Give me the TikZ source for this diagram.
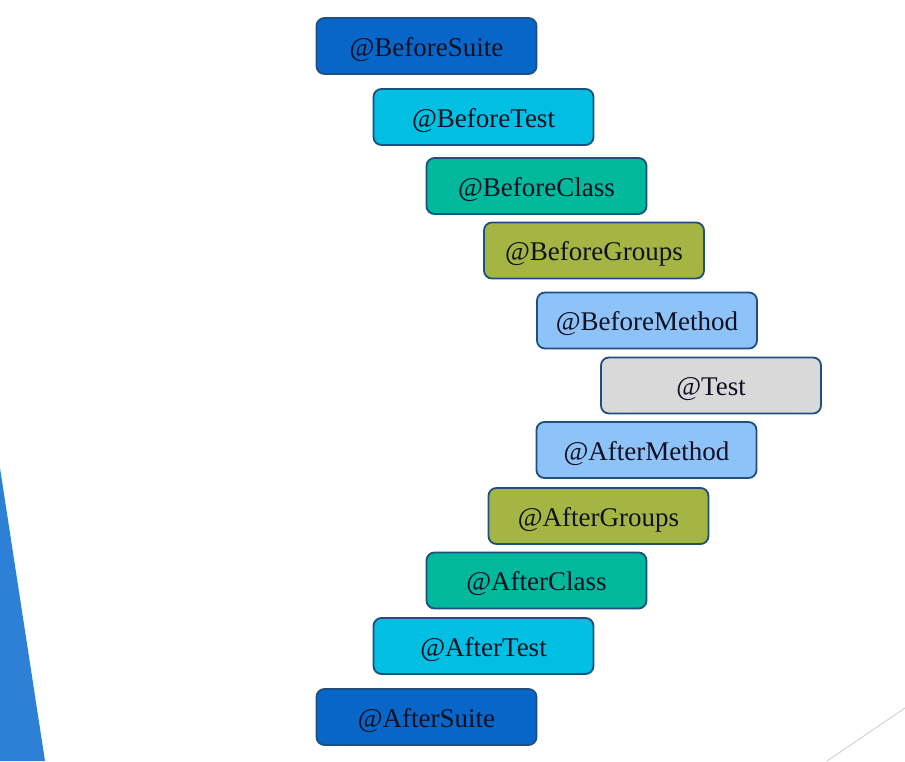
\documentclass[tikz,border=0pt]{standalone}
\usepackage{fontspec}
\setmainfont{Liberation Serif}
\definecolor{cSuite}{HTML}{0866C9}
\definecolor{cTest}{HTML}{00BFE2}
\definecolor{cClass}{HTML}{00B89C}
\definecolor{cGroups}{HTML}{A4B543}
\definecolor{cMethod}{HTML}{8DC3F8}
\definecolor{cT}{HTML}{D9D9D9}
\definecolor{cBorder}{HTML}{1E4F80}
\definecolor{cText}{HTML}{101020}
\definecolor{cTri}{HTML}{2E80D6}
\definecolor{cLine}{HTML}{D3D3D3}
\tikzset{
  annbox/.style={draw=cBorder, line width=1.8pt, rounded corners=8pt,
    minimum width=220pt, minimum height=56pt, inner sep=0pt,
    text height=20pt, text depth=0pt,
    text=cText, font=\fontsize{27}{31}\selectfont},
}
\begin{document}
\begin{tikzpicture}[x=1pt,y=-1pt]
\useasboundingbox (0,0) rectangle (905,761);
\fill[white] (0,0) rectangle (905,761);
\fill[cTri] (0,468) -- (45,761) -- (0,761) -- cycle;
\coordinate (la) at (827,761);
\coordinate (lb) at (905,708);
\draw[cLine, line width=1pt] (la) -- (lb);
\node[annbox, fill=cSuite]  (bs) at (426.5,46)  {@BeforeSuite};
\node[annbox, fill=cTest]   (bt) at (483.5,117) {@BeforeTest};
\node[annbox, fill=cClass]  (bc) at (536.5,186) {@BeforeClass};
\node[annbox, fill=cGroups] (bg) at (594,250.5) {@BeforeGroups};
\node[annbox, fill=cMethod] (bm) at (647,320.5) {@BeforeMethod};
\node[annbox, fill=cT]      (t)  at (711,385.5) {@Test};
\node[annbox, fill=cMethod] (am) at (646.5,450) {@AfterMethod};
\node[annbox, fill=cGroups] (ag) at (598.5,516) {@AfterGroups};
\node[annbox, fill=cClass]  (ac) at (536.5,580.5) {@AfterClass};
\node[annbox, fill=cTest]   (at) at (483.5,646) {@AfterTest};
\node[annbox, fill=cSuite]  (as) at (426.5,717) {@AfterSuite};
\end{tikzpicture}
\end{document}
